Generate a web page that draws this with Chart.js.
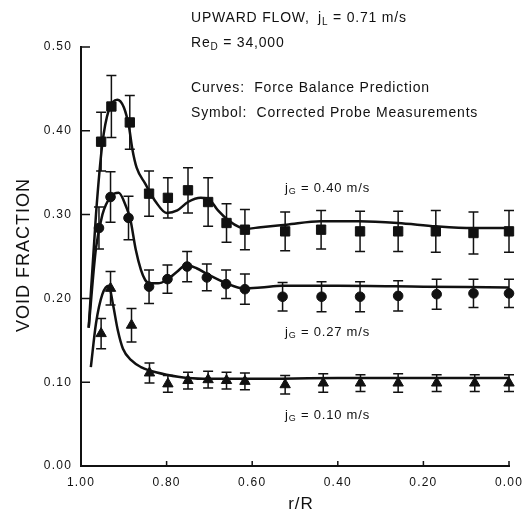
<!DOCTYPE html>
<html>
<head>
<meta charset="utf-8">
<script src="https://cdn.jsdelivr.net/npm/chart.js@4"></script>
<style>
  html, body { margin: 0; padding: 0; background: #fff; }
  #wrap { width: 524px; height: 512px; }
</style>
</head>
<body>
<div id="wrap"><canvas id="chart"></canvas></div>
<script>
// ── data ──────────────────────────────────────────────────
// measured points, j_G = 0.40 m/s (squares)
const rSq    = [0.953, 0.929, 0.886, 0.841, 0.797, 0.750, 0.703, 0.660, 0.617, 0.523, 0.439, 0.348, 0.259, 0.171, 0.083, 0.000];
const voidSq = [0.387, 0.429, 0.410, 0.325, 0.320, 0.329, 0.315, 0.290, 0.282, 0.280, 0.282, 0.280, 0.280, 0.280, 0.278, 0.280];
const errSq  = [0.035, 0.037, 0.032, 0.027, 0.024, 0.027, 0.029, 0.023, 0.024, 0.023, 0.023, 0.024, 0.024, 0.025, 0.025, 0.025];

// j_G = 0.27 m/s (circles)
const rCirc    = [0.958, 0.931, 0.889, 0.841, 0.798, 0.752, 0.706, 0.661, 0.617, 0.529, 0.438, 0.348, 0.259, 0.169, 0.083, 0.000];
const voidCirc = [0.284, 0.321, 0.296, 0.214, 0.223, 0.238, 0.225, 0.217, 0.211, 0.202, 0.202, 0.202, 0.203, 0.205, 0.206, 0.206];
const errCirc  = [0.025, 0.030, 0.026, 0.020, 0.017, 0.018, 0.016, 0.017, 0.018, 0.017, 0.018, 0.018, 0.018, 0.018, 0.017, 0.017];

// j_G = 0.10 m/s (triangles)
const rTri    = [0.953, 0.931, 0.882, 0.840, 0.797, 0.750, 0.703, 0.660, 0.617, 0.523, 0.434, 0.347, 0.259, 0.169, 0.080, 0.000];
const voidTri = [0.158, 0.212, 0.168, 0.111, 0.098, 0.102, 0.103, 0.102, 0.101, 0.097, 0.099, 0.099, 0.099, 0.099, 0.099, 0.099];
const errTri  = [0.018, 0.020, 0.020, 0.012, 0.010, 0.010, 0.010, 0.010, 0.010, 0.011, 0.011, 0.010, 0.011, 0.010, 0.010, 0.010];

// force balance prediction curves
const curveRSq = [0.982, 0.965, 0.950, 0.935, 0.915, 0.900, 0.888, 0.880, 0.870, 0.850, 0.825, 0.800, 0.775, 0.750, 0.720, 0.700, 0.680, 0.655, 0.630, 0.615, 0.580, 0.520, 0.440, 0.350, 0.260, 0.170, 0.085, 0.000];
const curveSq  = [0.165, 0.300, 0.385, 0.425, 0.437, 0.428, 0.405, 0.378, 0.356, 0.337, 0.315, 0.302, 0.305, 0.315, 0.320, 0.318, 0.305, 0.293, 0.285, 0.283, 0.285, 0.288, 0.292, 0.292, 0.290, 0.286, 0.284, 0.284];

const curveRCirc = [0.982, 0.965, 0.950, 0.930, 0.912, 0.895, 0.885, 0.872, 0.860, 0.850, 0.840, 0.820, 0.800, 0.775, 0.755, 0.730, 0.705, 0.660, 0.620, 0.580, 0.530, 0.400, 0.200, 0.000];
const curveCirc  = [0.165, 0.260, 0.300, 0.322, 0.326, 0.310, 0.295, 0.258, 0.234, 0.222, 0.218, 0.218, 0.222, 0.232, 0.240, 0.236, 0.229, 0.218, 0.212, 0.213, 0.215, 0.215, 0.214, 0.213];

const curveRTri = [0.977, 0.965, 0.950, 0.935, 0.925, 0.914, 0.902, 0.882, 0.860, 0.840, 0.800, 0.750, 0.700, 0.600, 0.400, 0.200, 0.000];
const curveTri  = [0.118, 0.170, 0.205, 0.215, 0.192, 0.162, 0.140, 0.126, 0.118, 0.114, 0.109, 0.105, 0.104, 0.104, 0.105, 0.105, 0.105];

const yTicks = [0, 0.1, 0.2, 0.3, 0.4, 0.5];
const xTicks = [0, 0.2, 0.4, 0.6, 0.8];

const INK  = '#111';
const FONT = '"Liberation Sans", Arial, sans-serif';

const pts = (xs, ys) => xs.map((x, i) => ({ x, y: ys[i] }));

const curve = (xs, ys) => ({
  data: pts(xs, ys),
  borderColor: INK,
  borderWidth: 2.5,
  pointRadius: 0,
  cubicInterpolationMode: 'monotone',
  fill: false,
  clip: false,
});

const symbols = (xs, ys, err, style, r) => ({
  data: pts(xs, ys),
  err,
  showLine: false,
  pointStyle: style,
  pointRadius: r,
  backgroundColor: INK,
  borderColor: INK,
  borderWidth: 1,
  clip: false,
});

// ── plugins ───────────────────────────────────────────────
const spacing = {
  id: 'spacing',
  beforeLayout(chart) { chart.ctx.letterSpacing = '1.2px'; },
  beforeDraw(chart)   { chart.ctx.letterSpacing = '1.2px'; },
};

const errorBars = {
  id: 'errorBars',
  beforeDatasetsDraw(chart) {
    const { ctx, scales: { x, y } } = chart;
    ctx.save();
    ctx.strokeStyle = INK;
    ctx.lineWidth = 1.5;
    chart.data.datasets.forEach(ds => {
      if (!ds.err) return;
      ds.data.forEach((p, i) => {
        const px  = x.getPixelForValue(p.x);
        const top = y.getPixelForValue(p.y + ds.err[i]);
        const bot = y.getPixelForValue(p.y - ds.err[i]);
        ctx.beginPath();
        ctx.moveTo(px, top);     ctx.lineTo(px, bot);
        ctx.moveTo(px - 5, top); ctx.lineTo(px + 5, top);
        ctx.moveTo(px - 5, bot); ctx.lineTo(px + 5, bot);
        ctx.stroke();
      });
    });
    ctx.restore();
  },
};

// inward tick marks + annotation text
function rich(ctx, x, y, parts, size) {
  let cx = x;
  parts.forEach(([t, sub]) => {
    ctx.font = (sub ? Math.round(size * 0.7) : size) + 'px ' + FONT;
    ctx.fillText(t, cx, sub ? y + size * 0.3 : y);
    cx += ctx.measureText(t).width;
  });
}

const decorations = {
  id: 'decorations',
  afterDraw(chart) {
    const { ctx, chartArea: a, scales: { x, y } } = chart;
    ctx.save();
    ctx.strokeStyle = INK;
    ctx.lineWidth = 1.5;
    ctx.beginPath();
    yTicks.forEach(v => {
      const py = y.getPixelForValue(v);
      ctx.moveTo(a.left, py); ctx.lineTo(a.left + 9, py);
    });
    xTicks.forEach(v => {
      const px = x.getPixelForValue(v);
      ctx.moveTo(px, a.bottom); ctx.lineTo(px, a.bottom - 5);
    });
    ctx.stroke();

    ctx.fillStyle = INK;
    ctx.textBaseline = 'middle';
    ctx.textAlign = 'left';
    ctx.letterSpacing = '0.8px';
    rich(ctx, 191, 18, [['UPWARD FLOW,']], 14);
    rich(ctx, 318, 18, [['j'], ['L', true], [' = 0.71 m/s']], 14);
    rich(ctx, 191, 43, [['Re'], ['D', true], [' = 34,000']], 14);
    rich(ctx, 191, 88, [['Curves:  Force Balance Prediction']], 14);
    rich(ctx, 191, 113, [['Symbol:  Corrected Probe Measurements']], 14);

    rich(ctx, 285, 188, [['j'], ['G', true], [' = 0.40 m/s']], 13);
    rich(ctx, 285, 332, [['j'], ['G', true], [' = 0.27 m/s']], 13);
    rich(ctx, 285, 415, [['j'], ['G', true], [' = 0.10 m/s']], 13);

    // axis titles
    ctx.letterSpacing = '1px';
    ctx.textAlign = 'center';
    ctx.font = '17px ' + FONT;
    ctx.fillText('r/R', 301, 504);
    ctx.translate(24, 255);
    ctx.rotate(-Math.PI / 2);
    ctx.font = '18px ' + FONT;
    ctx.fillText('VOID FRACTION', 0, 0);
    ctx.restore();
  },
};

// ── chart ─────────────────────────────────────────────────
new Chart(document.getElementById('chart'), {
  type: 'line',
  data: {
    datasets: [
      curve(curveRSq, curveSq),
      curve(curveRCirc, curveCirc),
      curve(curveRTri, curveTri),
      symbols(rSq, voidSq, errSq, 'rect', 6.6),
      symbols(rCirc, voidCirc, errCirc, 'circle', 4.8),
      symbols(rTri, voidTri, errTri, 'triangle', 6),
    ],
  },
  options: {
    responsive: true,
    maintainAspectRatio: false,
    animation: false,
    devicePixelRatio: 1,
    layout: { padding: { top: 47, right: 0, bottom: 0, left: 0 } },
    plugins: { legend: { display: false }, tooltip: { enabled: false } },
    scales: {
      x: {
        type: 'linear',
        min: 0, max: 1,
        reverse: true,
        afterFit: s => { s.height = 46; s.paddingLeft = 0; s.paddingRight = 15; },
        border: { display: true, color: INK, width: 2 },
        grid: { drawOnChartArea: false, drawTicks: false },
        ticks: {
          stepSize: 0.2, padding: 9, color: INK,
          font: { family: FONT, size: 12 },
          callback: v => v.toFixed(2),
        },
      },
      y: {
        min: 0, max: 0.5,
        afterFit: s => { s.width = 81; s.paddingTop = 0; s.paddingBottom = 0; },
        border: { display: true, color: INK, width: 2 },
        grid: { drawOnChartArea: false, drawTicks: false },
        ticks: {
          stepSize: 0.1, padding: 9, color: INK,
          font: { family: FONT, size: 12 },
          callback: v => v.toFixed(2),
        },
      },
    },
  },
  plugins: [spacing, errorBars, decorations],
});
</script>
</body>
</html>
